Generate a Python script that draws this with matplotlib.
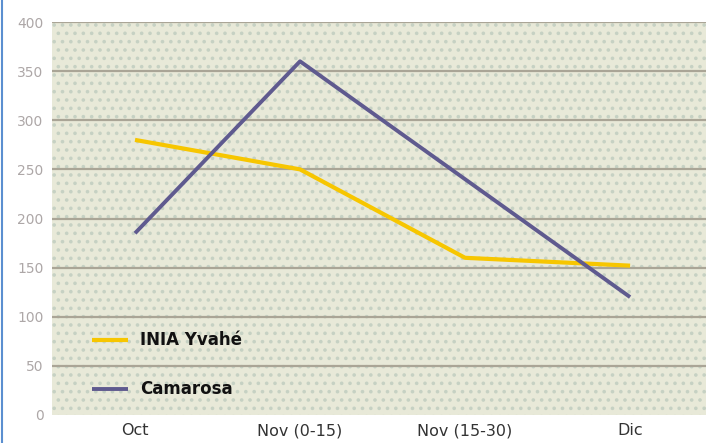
import matplotlib
matplotlib.use("Agg")
import matplotlib.pyplot as plt
from matplotlib.patches import Rectangle
from matplotlib.lines import Line2D

categories = ["Oct", "Nov (0-15)", "Nov (15-30)", "Dic"]
inia_yvahe = [280, 250, 160, 152]
camarosa = [185, 360, 240, 120]
yticks = [0, 50, 100, 150, 200, 250, 300, 350, 400]
series_names = ["INIA Yvahé", "Camarosa"]

fig = plt.figure(figsize=(7.06, 4.43), dpi=100)
ax = fig.add_axes([52/706, 1-415/443, 1-52/706, (415-22)/443])
ax.set_facecolor("#e8e9d8")

# dotted background pattern
plt.rcParams["hatch.linewidth"] = 1.4
bg = Rectangle((0, 0), 1, 1, transform=ax.transAxes, facecolor="none",
               edgecolor="#c6d1c3", hatch="..", linewidth=0, zorder=0.5)
ax.add_patch(bg)

x = list(range(len(categories)))
ax.set_xlim(-0.503, 3.46)
ax.set_ylim(0, 400)

for y in yticks[1:]:
    ax.axhline(y, color="#aaa596", lw=1.6, zorder=1)

ax.plot(x, inia_yvahe, color="#f7c600", lw=3.0, zorder=3, solid_capstyle="butt")
ax.plot(x, camarosa, color="#5f5a8f", lw=2.8, zorder=4, solid_capstyle="butt")

# legend drawn inside the plot
leg_font = dict(fontsize=12, fontweight="bold", family=["Liberation Sans Narrow", "DejaVu Sans"], color="#111111",
                va="center", ha="left")
ax.plot([-0.26, -0.04], [76, 76], color="#f7c600", lw=3.0, solid_capstyle="butt", zorder=3)
ax.text(0.03, 76, series_names[0], **leg_font)
ax.plot([-0.26, -0.04], [26, 26], color="#5f5a8f", lw=2.8, solid_capstyle="butt", zorder=3)
ax.text(0.03, 26, series_names[1], **leg_font)

ax.set_xticks(x)
ax.set_xticklabels(categories, fontsize=11.5, color="#333333", family="DejaVu Sans")
ax.set_yticks(yticks)
ax.set_yticklabels([str(v) for v in yticks], fontsize=10, color="#ada7a7")
ax.tick_params(axis="both", length=0)
ax.tick_params(axis="y", pad=6)
ax.tick_params(axis="x", pad=6)
for s in ax.spines.values():
    s.set_visible(False)

fig.add_artist(Line2D([1.5/706, 1.5/706], [0, 1], color="#5b8fd0", lw=1.5))

fig.savefig("out.png", dpi=100)
